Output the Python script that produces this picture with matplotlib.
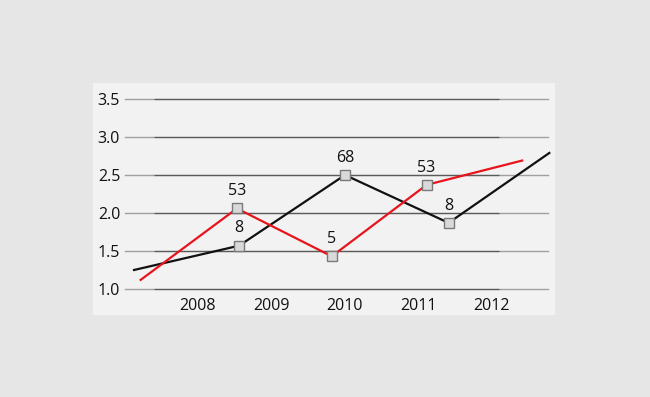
import matplotlib.pyplot as plt
from matplotlib.patches import Rectangle

plt.rcParams['font.family'] = ['Open Sans', 'DejaVu Sans']

years = [2008, 2009, 2010, 2011, 2012]
y_ticks = [1.0, 1.5, 2.0, 2.5, 3.0, 3.5]

# black series
black_x = [2007.13, 2008.56, 2010.0, 2011.41, 2012.78]
black_y = [1.25, 1.57, 2.50, 1.87, 2.79]
black_marked = [1, 2, 3]
black_labels = ['8', '68', '8']

# red series
red_x = [2007.22, 2008.53, 2009.82, 2011.11, 2012.41]
red_y = [1.12, 2.06, 1.43, 2.37, 2.69]
red_marked = [1, 2, 3]
red_labels = ['53', '5', '53']

fig = plt.figure(figsize=(6.5, 3.97), dpi=100)
fig.patch.set_facecolor('#e6e6e6')
fig.add_artist(Rectangle((93 / 650, 1 - 315 / 397), 462 / 650, 232 / 397,
                         transform=fig.transFigure, facecolor='#f2f2f2',
                         edgecolor='none', zorder=0))

ax = fig.add_axes([125 / 650, 1 - 289 / 397, 423 / 650, 190 / 397])
ax.patch.set_alpha(0)
ax.set_xlim(2007.007, 2012.762)
ax.set_ylim(1.0, 3.5)

for v in y_ticks:
    ax.axhline(v, color='#a0a0a0', lw=1, zorder=1, clip_on=False)
    ax.hlines(v, 2007.4, 2012.1, color='#5a5a5a', lw=0.9, zorder=1.1, clip_on=False)

ax.plot(black_x, black_y, color='#111111', lw=1.6, zorder=3, clip_on=False)
ax.plot(red_x, red_y, color='#e8141c', lw=1.6, zorder=3, clip_on=False)

for xs, ys, idx, labs in [(black_x, black_y, black_marked, black_labels),
                          (red_x, red_y, red_marked, red_labels)]:
    mx = [xs[i] for i in idx]
    my = [ys[i] for i in idx]
    ax.plot(mx, my, ls='none', marker='s', ms=6.5, mfc='#d9d9d9',
            mec='#7a7a7a', mew=1, zorder=4, clip_on=False)
    for x, y, t in zip(mx, my, labs):
        ax.annotate(t, (x, y), xytext=(0, 12.5), textcoords='offset points',
                    ha='center', va='center', fontsize=11.5, color='#111111')

ax.set_xticks(years)
ax.set_xticklabels([str(y) for y in years])
ax.set_yticks(y_ticks)
ax.set_yticklabels([f'{v:.1f}' for v in y_ticks])
ax.tick_params(length=0, labelsize=11.5, colors='#111111')
ax.tick_params(axis='x', pad=6.5)
ax.tick_params(axis='y', pad=3.5)
for s in ax.spines.values():
    s.set_visible(False)

fig.savefig('out.png', dpi=100, facecolor=fig.get_facecolor())
